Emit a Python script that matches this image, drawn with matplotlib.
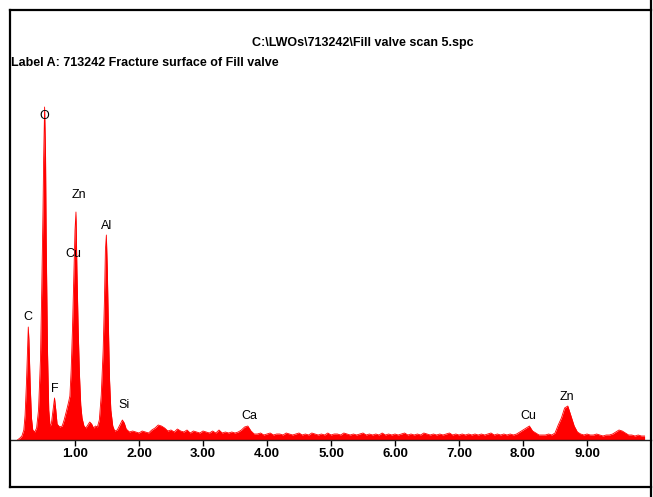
import matplotlib.pyplot as plt
from matplotlib.lines import Line2D
import numpy as np

# spectrum (energy in keV, counts in arbitrary units)
peak_kev = [0.10, 0.14, 0.17, 0.20, 0.22, 0.24, 0.26, 0.27, 0.28, 0.30, 0.32, 0.34,
            0.37, 0.40, 0.43, 0.46, 0.48, 0.50, 0.51, 0.525, 0.54, 0.55, 0.57, 0.59,
            0.61, 0.63, 0.66, 0.68, 0.70, 0.72, 0.76, 0.80, 0.83, 0.87, 0.90, 0.92,
            0.94, 0.96, 0.98, 1.00, 1.015, 1.03, 1.05, 1.07, 1.09, 1.11, 1.14, 1.17,
            1.20, 1.23, 1.26, 1.29, 1.32, 1.35, 1.38, 1.41, 1.44, 1.46, 1.475, 1.49,
            1.505, 1.52, 1.54, 1.56, 1.59, 1.62, 1.66, 1.70, 1.74, 1.77, 1.80, 1.85,
            1.90]
peak_counts = [0, 2, 4, 10, 25, 55, 95, 113, 100, 55, 22, 10,
               8, 12, 30, 80, 150, 230, 282, 333, 282, 200, 90, 30,
               14, 16, 32, 42, 30, 16, 13, 14, 20, 30, 38, 44,
               70, 110, 160, 210, 228, 170, 110, 65, 35, 22, 14, 12,
               15, 18, 16, 12, 14, 13, 20, 45, 90, 140, 190, 205,
               170, 120, 60, 30, 14, 9, 10, 15, 20, 17, 11, 8,
               9]

# background from 1.95 keV upward, one value every 0.05 keV
bg_start = 1.95
bg_counts = [8, 7, 9, 8, 7, 10, 12, 15, 14, 12, 9, 10, 8, 11, 9, 8, 10, 7, 9, 8,
             7, 9, 8, 7, 9, 7, 10, 7, 8, 7, 8, 7, 8, 10, 13, 14, 9, 6,
             6, 7, 5, 6, 7, 5, 6, 6, 5, 7, 6, 5, 6, 7, 5, 6, 5, 7, 6, 5, 6, 5,
             7, 5, 6, 6, 5, 7, 6, 5, 6, 5, 6, 7, 5, 6, 5, 6, 5, 7, 5, 6, 5, 6,
             5, 6, 7, 5, 6, 5, 6, 5, 7, 6, 5, 6, 5, 6, 5, 6, 7, 5, 6, 5, 6, 5,
             6, 5, 6, 5, 6, 5, 6, 7, 5, 6, 5, 6, 5, 6, 5,
             6, 8, 10, 12, 14, 9, 7, 5, 5, 5, 6, 5, 7, 15, 22, 32, 34, 24, 14, 8,
             6, 5, 6, 5, 5, 6, 5, 4, 5, 5, 6, 8, 10, 9, 7, 5, 5, 4, 5, 4, 4]
bg_kev = [round(bg_start + 0.05 * i, 2) for i in range(len(bg_counts))]

energy = np.array(peak_kev + bg_kev)
counts = np.array(peak_counts + bg_counts)

# peak labels
labels = ["O", "Zn", "Cu", "Al", "C", "F", "Si", "Ca", "Cu", "Zn"]
label_kev = [0.52, 1.06, 0.98, 1.50, 0.27, 0.69, 1.77, 3.73, 8.09, 8.69]
label_counts = [324, 245, 186, 214, 123, 51, 35, 24, 24, 43]

ticks = [1, 2, 3, 4, 5, 6, 7, 8, 9]

plt.rcParams['font.family'] = ['Liberation Sans', 'DejaVu Sans']

fig = plt.figure(figsize=(6.53, 4.97), dpi=100)
ax = fig.add_axes([11 / 653, 57 / 497, 640 / 653, 370 / 497])

ax.fill_between(energy, counts, color='#ff0000', linewidth=0)
ax.plot(energy, counts, color='#ff0000', linewidth=0.6)

for lab, x, y in zip(labels, label_kev, label_counts):
    ax.text(x, y, lab, ha='center', va='center', fontsize=9)

ax.set_xlim(0, 10)
ax.set_ylim(0, 370)
ax.set_yticks([])
ax.set_xticks(ticks)
ax.set_xticklabels([f"{t:.2f}" for t in ticks], fontweight='bold', fontsize=9.5)
ax.tick_params(axis='x', direction='out', length=4, width=1, pad=2, colors='black')
for side in ['left', 'top', 'right']:
    ax.spines[side].set_visible(False)
ax.spines['bottom'].set_color('#222222')
ax.spines['bottom'].set_linewidth(1)
ax.patch.set_visible(False)

# titles
fig.text(363 / 653, 1 - 43 / 497, "C:\\LWOs\\713242\\Fill valve scan 5.spc",
         ha='center', va='center', fontsize=9, fontweight='bold')
fig.text(11 / 653, 1 - 63 / 497, "Label A: 713242 Fracture surface of Fill valve",
         ha='left', va='center', fontsize=9, fontweight='bold')

# outer frame
top = 1 - 10 / 497
bot = 1 - 487 / 497
left = 10 / 653
right = 651 / 653
for xs, ys in [([left, right], [top, top]), ([left, left], [top, bot]),
               ([left, right], [bot, bot]), ([right, right], [0, 1])]:
    fig.add_artist(Line2D(xs, ys, color='black', linewidth=1.6))

fig.savefig('out.png', dpi=100)
